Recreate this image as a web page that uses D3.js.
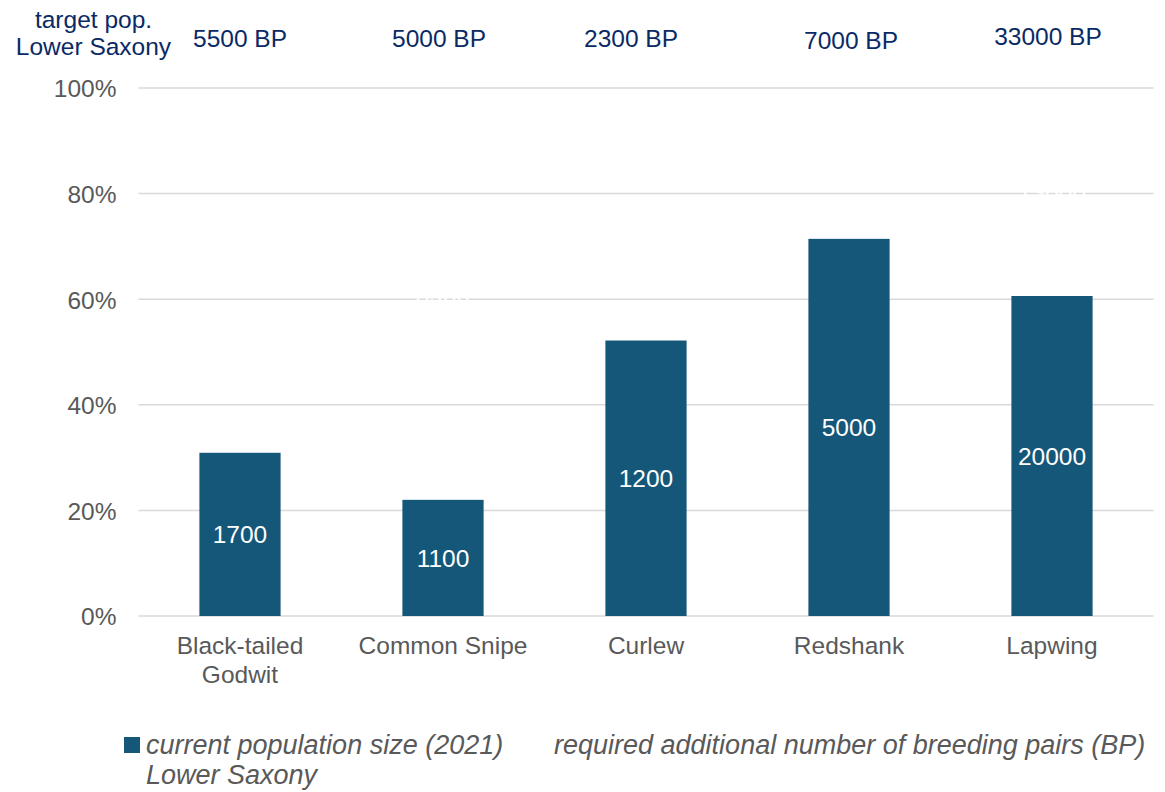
<!DOCTYPE html>
<html>
<head>
<meta charset="utf-8">
<script src="https://cdn.jsdelivr.net/npm/d3@7"></script>
<style>
  body { margin: 0; background: #fff; }
  svg text { font-family: "Liberation Sans", Arial, sans-serif; }
</style>
</head>
<body>
<svg id="chart" width="1165" height="792"></svg>
<script>
// data
const species = ['Black-tailed Godwit', 'Common Snipe', 'Curlew', 'Redshank', 'Lapwing'];
const speciesLines = [['Black-tailed', 'Godwit'], ['Common Snipe'], ['Curlew'], ['Redshank'], ['Lapwing']];
const current2021 = [1700, 1100, 1200, 5000, 20000];
const additional = [3800, 3900, 1100, 2000, 13000];
const targetLabels = ['5500 BP', '5000 BP', '2300 BP', '7000 BP', '33000 BP'];
const yTicks = [0, 0.2, 0.4, 0.6, 0.8, 1];

// the header labels were hand placed text boxes, nudge them like the original
const headerNudgeX = [0, -4, -15, 2, -4];
const headerNudgeY = [0, 0, 0, 2, -2];

const rows = species.map((s, i) => ({ species: s, current: current2021[i], additional: additional[i] }));
const keys = ['current', 'additional'];
const fills = { current: '#155779', additional: 'none' };
const fontSize = '24.5px';

const svg = d3.select('#chart');
const plotLeft = 138.5, plotRight = 1153.5, plotTop = 88, plotBottom = 616;

const x = d3.scaleBand().domain(species).range([plotLeft, plotRight]).paddingInner(0.6).paddingOuter(0.3);
const y = d3.scaleLinear().domain([0, 1]).range([plotBottom, plotTop]);

const series = d3.stack().keys(keys).offset(d3.stackOffsetExpand)(rows);

// gridlines
svg.append('g')
  .selectAll('line').data(yTicks).enter().append('line')
  .attr('x1', plotLeft).attr('x2', plotRight)
  .attr('y1', d => y(d)).attr('y2', d => y(d))
  .attr('stroke', '#d9d9d9').attr('stroke-width', 1.5);

// y axis labels
const yAxis = svg.append('g').attr('transform', `translate(${plotLeft - 22},0)`)
  .call(d3.axisLeft(y).tickValues(yTicks).tickFormat(d3.format('.0%')).tickSize(0).tickPadding(0));
yAxis.select('.domain').remove();
yAxis.selectAll('text').attr('fill', '#595959').attr('dy', '0.36em').style('font-size', fontSize)
  .style('font-family', '"Liberation Sans", Arial, sans-serif');

// bars
const groups = svg.append('g').selectAll('g').data(series).enter().append('g')
  .attr('fill', d => fills[d.key]);

groups.selectAll('rect').data(d => d).enter().append('rect')
  .attr('x', d => x(d.data.species))
  .attr('width', x.bandwidth())
  .attr('y', d => y(d[1]))
  .attr('height', d => y(d[0]) - y(d[1]));

groups.selectAll('text').data(d => d.map(v => Object.assign(v, { key: d.key }))).enter().append('text')
  .attr('x', d => x(d.data.species) + x.bandwidth() / 2)
  .attr('y', d => (y(d[0]) + y(d[1])) / 2)
  .attr('dy', '0.36em')
  .attr('text-anchor', 'middle')
  .attr('fill', '#ffffff')
  .style('font-size', fontSize)
  .text(d => d.data[d.key]);

// category labels
const cats = svg.append('g').selectAll('text').data(species).enter().append('text')
  .attr('x', d => x(d) + x.bandwidth() / 2)
  .attr('y', 654)
  .attr('text-anchor', 'middle')
  .attr('fill', '#595959')
  .style('font-size', fontSize);
cats.selectAll('tspan').data((d, i) => speciesLines[i]).enter().append('tspan')
  .attr('x', function () { return this.parentNode.getAttribute('x'); })
  .attr('dy', (d, i) => i === 0 ? 0 : 29)
  .text(d => d);

// target population header
svg.append('text').attr('x', 93.5).attr('y', 28).attr('text-anchor', 'middle')
  .attr('fill', '#0a2a66').style('font-size', fontSize)
  .selectAll('tspan').data(['target pop.', 'Lower Saxony']).enter().append('tspan')
  .attr('x', 93.5).attr('dy', (d, i) => i === 0 ? 0 : 27).text(d => d);

svg.append('g').selectAll('text').data(targetLabels).enter().append('text')
  .attr('x', (d, i) => x(species[i]) + x.bandwidth() / 2 + headerNudgeX[i])
  .attr('y', (d, i) => 47 + headerNudgeY[i])
  .attr('text-anchor', 'middle')
  .attr('fill', '#0a2a66')
  .style('font-size', fontSize)
  .text(d => d);

// legend
const legend = svg.append('g').style('font-style', 'italic').attr('fill', '#595959').style('font-size', '27px');
legend.append('rect').attr('x', 124).attr('y', 737).attr('width', 16).attr('height', 16).attr('fill', fills.current);
legend.append('text').attr('x', 146).attr('y', 754).text('current population size (2021)');
legend.append('rect').attr('x', 534).attr('y', 737).attr('width', 16).attr('height', 16).attr('fill', '#ffffff');
legend.append('text').attr('x', 554).attr('y', 754).text('required additional number of breeding pairs (BP)');
legend.append('text').attr('x', 146).attr('y', 784).text('Lower Saxony');
</script>
</body>
</html>
